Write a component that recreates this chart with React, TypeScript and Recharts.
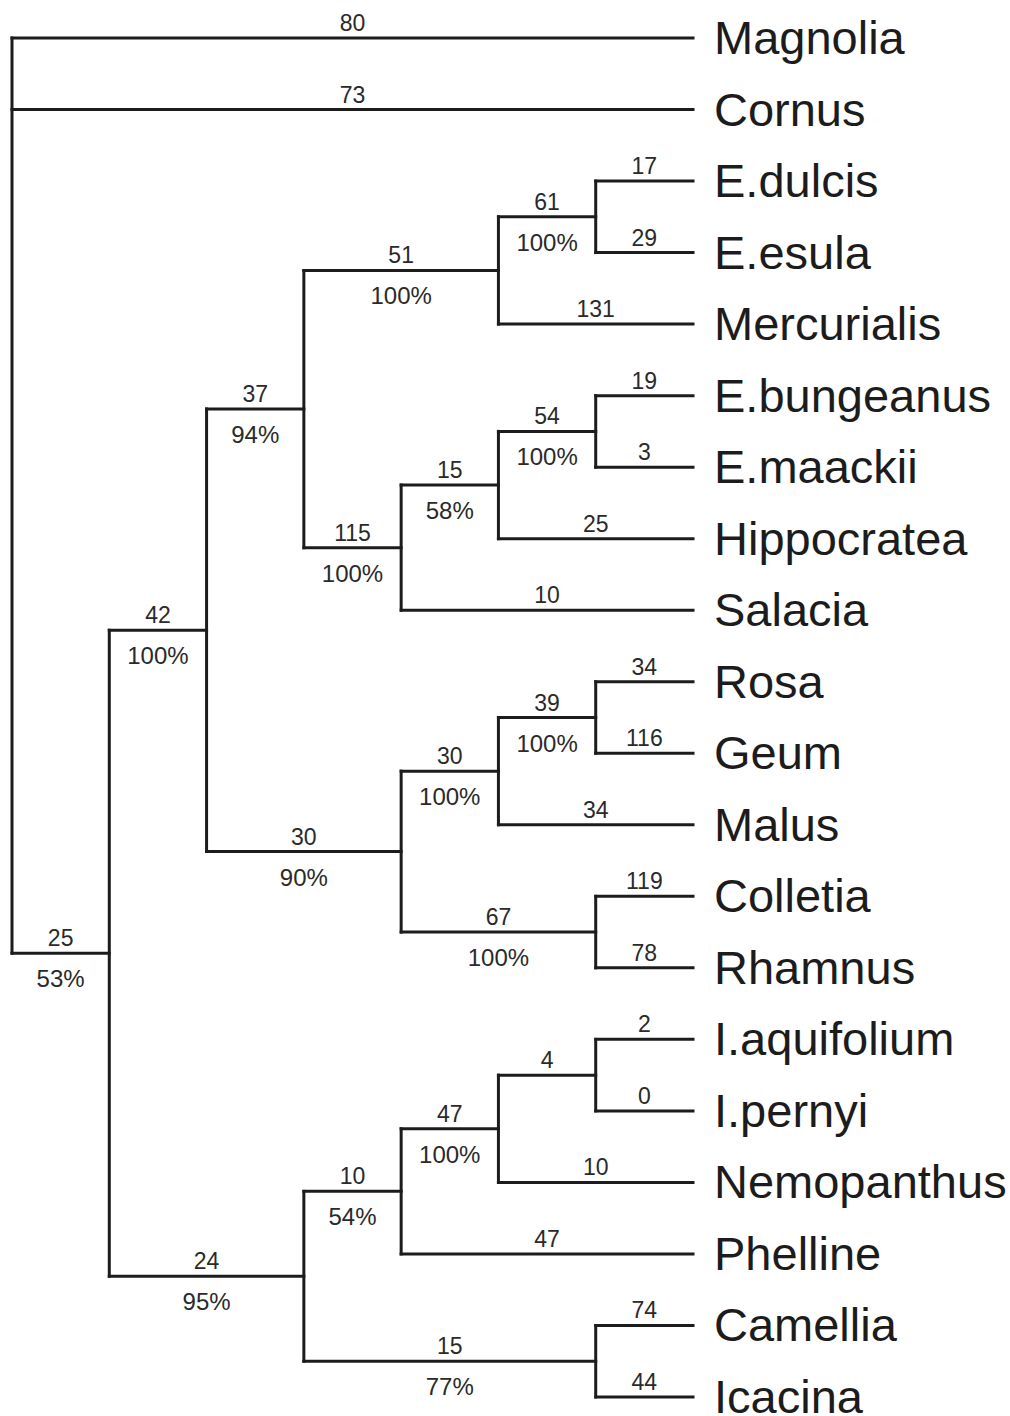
import React from 'react';
import { ComposedChart, XAxis, YAxis, ReferenceLine, Scatter } from 'recharts';

// leaves, top to bottom, with the length printed over their terminal branch
const taxa = [
  'Magnolia', 'Cornus', 'E.dulcis', 'E.esula', 'Mercurialis', 'E.bungeanus', 'E.maackii',
  'Hippocratea', 'Salacia', 'Rosa', 'Geum', 'Malus', 'Colletia', 'Rhamnus',
  'I.aquifolium', 'I.pernyi', 'Nemopanthus', 'Phelline', 'Camellia', 'Icacina',
];
const taxonBranch = [80, 73, 17, 29, 131, 19, 3, 25, 10, 34, 116, 34, 119, 78, 2, 0, 10, 47, 74, 44];

// internal clades: children, branch length above, bootstrap support below
const cladeNames = ['root', 'A', 'B', 'C', 'D', 'E', 'F', 'G', 'H', 'I', 'J', 'K', 'L', 'M', 'N', 'O', 'P', 'Q'];
const cladeChildren = [
  ['Magnolia', 'Cornus', 'A'],
  ['B', 'C'],
  ['D', 'E'],
  ['N', 'O'],
  ['F', 'G'],
  ['K', 'L'],
  ['H', 'Mercurialis'],
  ['I', 'Salacia'],
  ['E.dulcis', 'E.esula'],
  ['J', 'Hippocratea'],
  ['E.bungeanus', 'E.maackii'],
  ['M', 'Malus'],
  ['Colletia', 'Rhamnus'],
  ['Rosa', 'Geum'],
  ['P', 'Phelline'],
  ['Camellia', 'Icacina'],
  ['Q', 'Nemopanthus'],
  ['I.aquifolium', 'I.pernyi'],
];
const cladeBranch = [null, 25, 42, 24, 37, 30, 51, 115, 61, 15, 54, 30, 67, 39, 10, 15, 47, 4];
const cladeSupport = [null, '53%', '100%', '95%', '94%', '90%', '100%', '100%', '100%', '58%', '100%', '100%', '100%', '100%', '54%', '77%', '100%', null];

const INK = '#1c1c1c';
const FONT = '"Liberation Sans", Arial, Helvetica, sans-serif';

// cladogram layout: x = depth from tips, y = mean of children
const heightOf = (name: string): number => {
  const i = cladeNames.indexOf(name);
  if (i < 0) return 0;
  return 1 + Math.max(...cladeChildren[i].map(heightOf));
};
const maxH = heightOf('root');
const posOf = (name: string): { x: number; y: number } => {
  const t = taxa.indexOf(name);
  if (t >= 0) return { x: maxH, y: t };
  const kids = cladeChildren[cladeNames.indexOf(name)].map(posOf);
  return { x: maxH - heightOf(name), y: kids.reduce((s, k) => s + k.y, 0) / kids.length };
};

const segments: { x1: number; y1: number; x2: number; y2: number }[] = [];
const branchLabels: { x: number; y: number; len: number | null; sup: string | null }[] = [];
cladeNames.forEach((name, i) => {
  const p = posOf(name);
  const kids = cladeChildren[i].map((c) => ({ c, ...posOf(c) }));
  const ys = kids.map((k) => k.y);
  segments.push({ x1: p.x, y1: Math.min(...ys), x2: p.x, y2: Math.max(...ys) });
  kids.forEach((k) => {
    segments.push({ x1: p.x, y1: k.y, x2: k.x, y2: k.y });
    const t = taxa.indexOf(k.c);
    const ci = cladeNames.indexOf(k.c);
    branchLabels.push({
      x: (p.x + k.x) / 2,
      y: k.y,
      len: t >= 0 ? taxonBranch[t] : cladeBranch[ci],
      sup: t >= 0 ? null : cladeSupport[ci],
    });
  });
});
const tips = taxa.map((name, i) => ({ x: maxH, y: i, name }));

const BranchText = (props: any) => {
  const { cx, cy, payload } = props;
  return (
    <g>
      {payload.len !== null && (
        <text x={cx} y={cy - 7} textAnchor="middle" fontSize={23} fill="#2a2a2a" fontFamily={FONT}>
          {payload.len}
        </text>
      )}
      {payload.sup && (
        <text x={cx} y={cy + 34} textAnchor="middle" fontSize={24} fill="#2a2a2a" fontFamily={FONT}>
          {payload.sup}
        </text>
      )}
    </g>
  );
};

const TipText = (props: any) => {
  const { cx, cy, payload } = props;
  return (
    <text x={cx + 21} y={cy + 16} fontSize={47} fill={INK} fontFamily={FONT}>
      {payload.name}
    </text>
  );
};

export default function App() {
  return (
    <div style={{ position: 'absolute', left: 0, top: 0, width: 1010, height: 1416, background: '#fff' }}>
      <ComposedChart width={1010} height={1416} margin={{ top: 38, right: 317, bottom: 19, left: 12 }}>
        <XAxis type="number" dataKey="x" domain={[0, maxH]} hide />
        <YAxis type="number" dataKey="y" domain={[0, taxa.length - 1]} reversed hide />
        {segments.map((s, i) => (
          <ReferenceLine
            key={i}
            segment={[{ x: s.x1, y: s.y1 }, { x: s.x2, y: s.y2 }]}
            stroke={INK}
            strokeWidth={3}
            strokeLinecap="square"
            ifOverflow="visible"
          />
        ))}
        <Scatter data={branchLabels} shape={BranchText} isAnimationActive={false} />
        <Scatter data={tips} shape={TipText} isAnimationActive={false} />
      </ComposedChart>
    </div>
  );
}
